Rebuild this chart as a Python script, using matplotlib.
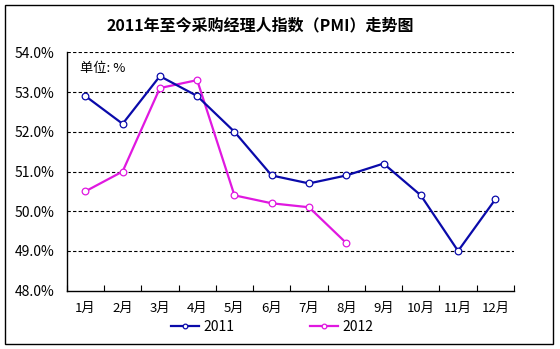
import matplotlib
matplotlib.use('Agg')
import matplotlib.pyplot as plt
from matplotlib.patches import Rectangle

plt.rcParams['font.family'] = ['Noto Sans CJK SC', 'DejaVu Sans']

MONTHS = ['1月', '2月', '3月', '4月', '5月', '6月', '7月', '8月', '9月', '10月', '11月', '12月']
PMI_2011 = [52.9, 52.2, 53.4, 52.9, 52.0, 50.9, 50.7, 50.9, 51.2, 50.4, 49.0, 50.3]
PMI_2012 = [50.5, 51.0, 53.1, 53.3, 50.4, 50.2, 50.1, 49.2]
Y_TICKS = [48.0, 49.0, 50.0, 51.0, 52.0, 53.0, 54.0]

COLOR_2011 = '#0A0AAA'
COLOR_2012 = '#E018E0'

fig = plt.figure(figsize=(5.6, 3.49), dpi=100)
fig.patches.append(Rectangle((5 / 560, 5 / 349), 548 / 560, 339 / 349,
                             transform=fig.transFigure, fill=False,
                             edgecolor='black', linewidth=1.0))

ax = fig.add_axes([66.7 / 560, 1 - 290.7 / 349, (514 - 66.7) / 560, (290.7 - 52.3) / 349])

x1 = list(range(1, len(PMI_2011) + 1))
x2 = list(range(1, len(PMI_2012) + 1))
l1, = ax.plot(x1, PMI_2011, color=COLOR_2011, linewidth=1.6, marker='o',
              markersize=4.8, markerfacecolor='white', markeredgecolor=COLOR_2011,
              markeredgewidth=0.9, label='2011', zorder=4)
l2, = ax.plot(x2, PMI_2012, color=COLOR_2012, linewidth=1.6, marker='o',
              markersize=4.8, markerfacecolor='white', markeredgecolor=COLOR_2012,
              markeredgewidth=0.9, label='2012', zorder=3)

ax.set_xlim(0.5, 12.5)
ax.set_ylim(48.0, 54.0)
ax.set_xticks(x1)
ax.set_xticklabels(MONTHS, fontsize=9.5)
ax.set_xticks([i + 0.5 for i in range(0, 13)], minor=True)
ax.tick_params(axis='x', which='major', length=0, pad=8)
ax.tick_params(axis='x', which='minor', direction='in', length=4, width=0.8)
ax.set_yticks(Y_TICKS)
ax.set_yticklabels(['%.1f%%' % v for v in Y_TICKS], fontsize=10)
ax.tick_params(axis='y', length=0, pad=9)

for v in Y_TICKS[1:]:
    ax.axhline(v, color='black', linestyle=(0, (3, 2)), linewidth=0.8, zorder=1)

for side in ['top', 'right']:
    ax.spines[side].set_visible(False)
for side in ['left', 'bottom']:
    ax.spines[side].set_linewidth(1.0)

ax.text(0.03, 0.93, '单位: %', transform=ax.transAxes, fontsize=9.5,
        ha='left', va='center')

fig.text(0.465, 1 - 25 / 349, '2011年至今采购经理人指数（PMI）走势图',
         ha='center', va='center', fontsize=11.5, fontweight='bold')

fig.legend([l1, l2], ['2011', '2012'], loc='center', ncol=2,
           bbox_to_anchor=(0.486, 1 - 327 / 349), frameon=False, fontsize=10,
           handlelength=2.0, columnspacing=5.5, handletextpad=0.3, markerscale=0.7)

fig.savefig('out.png', dpi=100)
